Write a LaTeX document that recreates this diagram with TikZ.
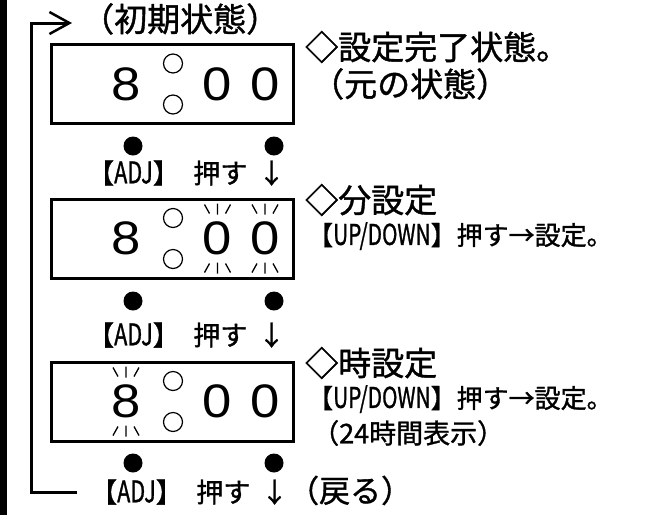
\documentclass[tikz,border=0pt]{standalone}
\usepackage{fontspec}
\usepackage{graphicx}
\usetikzlibrary{arrows.meta}
\setmainfont{Noto Sans CJK JP}[FakeBold=1.2]
\newfontfamily\digitfont{Liberation Sans}
\newcommand{\lat}[1]{\scalebox{0.8}[1.1]{#1}}
\newcommand{\dg}[1]{\scalebox{1.12}[1]{#1}}
\tikzset{
  dispbox/.style={draw, line width=3pt, minimum width=242pt, minimum height=79pt, inner sep=0pt},
  digit/.style={font=\digitfont\fontsize{47}{47}\selectfont, inner sep=0pt},
  colon/.style={circle, draw, line width=1.2pt, minimum size=19pt, inner sep=0pt},
  btn/.style={circle, fill, minimum size=19pt, inner sep=0pt},
  bigtxt/.style={font=\fontsize{33}{33}\selectfont, inner sep=0pt, anchor=west, text height=25pt, text depth=0pt},
  smalltxt/.style={font=\fontsize{27}{27}\selectfont, inner sep=0pt, anchor=west, text height=20.5pt, text depth=0pt},
  updown/.style={font=\fontsize{26}{26}\selectfont, inner sep=0pt, anchor=west, text height=19.8pt, text depth=0pt},
  loopline/.style={line width=3pt},
  flashlines/.pic={
    \draw[line width=1.3pt] (-13,-34) -- (-8,-25) (0,-35) -- (0,-24) (13,-34) -- (8,-25);
    \draw[line width=1.3pt] (-8,25) -- (-13,34) (0,24) -- (0,35) (8,25) -- (13,34);
  },
}
\begin{document}
\begin{tikzpicture}[x=1pt,y=-1pt]
\useasboundingbox (0,0) rectangle (647,515);
% left black bar
\fill (0,0) rectangle (7,515);

% ---------- state 1 ----------
\node[bigtxt] (init) at (81,19) {（初期状態）};
\node[dispbox] (b1) at (172.5,84) {};
\node[digit] (h1) at (126,84) {\dg{8}};
\node[colon] (c1a) at (173,63.5) {};
\node[colon] (c1b) at (173,104.5) {};
\node[digit] (m1a) at (217,84) {\dg{0}};
\node[digit] (m1b) at (265,84) {\dg{0}};
\node[btn] (p1a) at (133,146) {};
\node[btn] (p1b) at (274,146) {};
\node[bigtxt] (r1a) at (305,47) {◇設定完了状態。};
\node[bigtxt] (r1b) at (311,84) {（元の状態）};
\node[smalltxt] (adj1) at (87,173) {【\lat{ADJ}】\hspace{0.5em}押す\hspace{0.4em}↓};

% ---------- state 2 ----------
\node[dispbox] (b2) at (172.5,238.5) {};
\node[digit] (h2) at (126,238.5) {\dg{8}};
\node[colon] (c2a) at (173,218) {};
\node[colon] (c2b) at (173,259) {};
\node[digit] (m2a) at (217,238.5) {\dg{0}};
\node[digit] (m2b) at (265,238.5) {\dg{0}};
\pic at (217.5,238.5) {flashlines};
\pic at (265,238.5) {flashlines};
\node[btn] (p2a) at (133,301) {};
\node[btn] (p2b) at (274,301) {};
\node[bigtxt] (r2a) at (305,200) {◇分設定};
\node[updown] (r2b) at (307,235) {【\lat{UP/DOWN}】押す→設定。};
\node[smalltxt] (adj2) at (87,335) {【\lat{ADJ}】\hspace{0.5em}押す\hspace{0.4em}↓};

% ---------- state 3 ----------
\node[dispbox] (b3) at (172.5,401.5) {};
\node[digit] (h3) at (126,401.5) {\dg{8}};
\node[colon] (c3a) at (173,381) {};
\node[colon] (c3b) at (173,422) {};
\node[digit] (m3a) at (217,401.5) {\dg{0}};
\node[digit] (m3b) at (265,401.5) {\dg{0}};
\pic at (126,401.5) {flashlines};
\node[btn] (p3a) at (133,463) {};
\node[btn] (p3b) at (274,463) {};
\node[bigtxt] (r3a) at (305,363) {◇時設定};
\node[updown] (r3b) at (307,398) {【\lat{UP/DOWN}】押す→設定。};
\node[smalltxt] (r3c) at (312,433) {（24時間表示）};
\node[smalltxt] (adj3) at (90,492) {【\lat{ADJ}】\hspace{0.5em}押す\hspace{0.4em}↓{\fontsize{31}{31}\selectfont （戻る）}};

% ---------- return loop ----------
\coordinate (loopS) at (77,492);
\coordinate (loopE) at (72,23);
\draw[loopline, -{Straight Barb[length=20pt,width=22pt,line width=2.5pt]}]
  (loopS) -- (31,492) -- (31,23) -- (loopE);
\end{tikzpicture}
\end{document}
